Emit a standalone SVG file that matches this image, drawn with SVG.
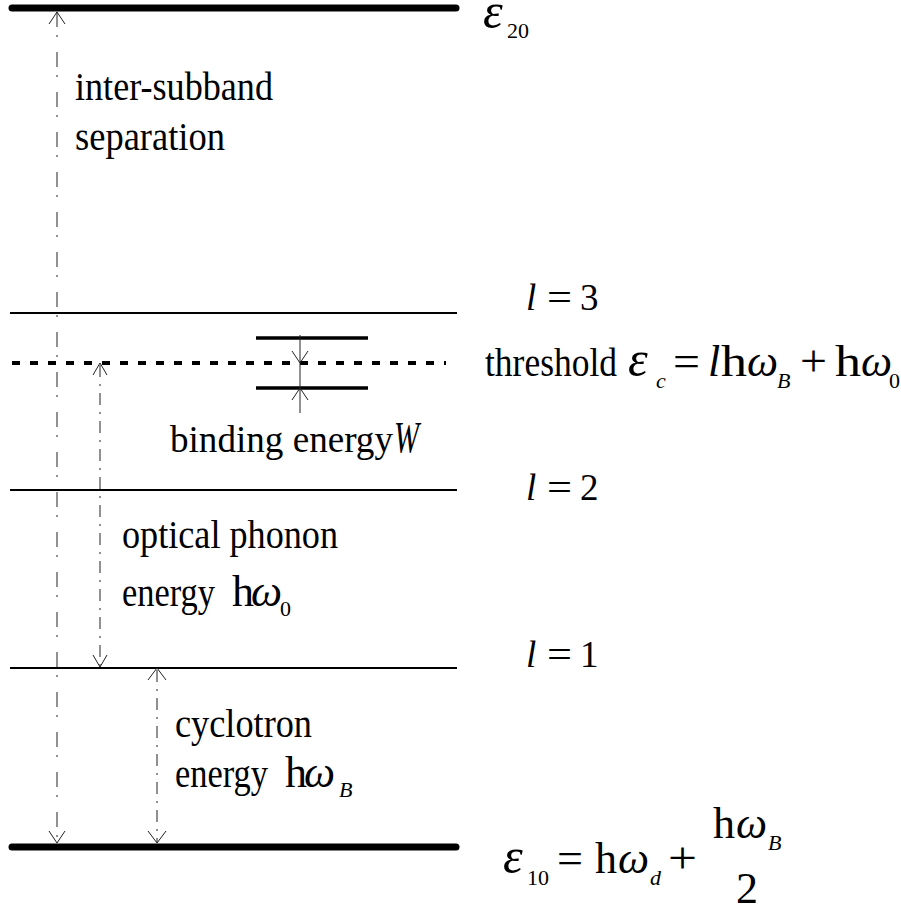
<svg xmlns="http://www.w3.org/2000/svg" width="901" height="909" viewBox="0 0 901 909">
<style>
text{font-family:"Liberation Serif","Times New Roman",serif;fill:#000}
.lbl{font-size:40px}
.m{font-size:44px}
.mi{font-size:44px;font-style:italic}
.eps{font-size:50px;font-style:italic}
.lq{font-size:37px}
.s{font-size:22px}
.si{font-size:22px;font-style:italic}
.lv{stroke:#000;stroke-width:2;fill:none}
.thick{stroke:#000;stroke-width:7;fill:none;stroke-linecap:round}
.short{stroke:#000;stroke-width:3.5;fill:none}
.dot{stroke:#000;stroke-width:4;fill:none;stroke-dasharray:8 10}
.arr{stroke:#222;stroke-width:1;fill:none}
.dd1{stroke-dasharray:15 8 2 15}
.dd2{stroke-dasharray:12 7 2 7}
.ah{stroke:#222;stroke-width:1;fill:none}
</style>
<g id="levels">
<line id="e20" class="thick" x1="12" y1="8" x2="456" y2="8"/>
<line id="l3" class="lv" x1="10" y1="313" x2="457" y2="313"/>
<line id="threshold" class="dot" x1="12" y1="363" x2="446" y2="363"/>
<line id="bindTop" class="short" x1="256" y1="338" x2="368" y2="338"/>
<line id="bindBot" class="short" x1="256" y1="388" x2="368" y2="388"/>
<line id="l2" class="lv" x1="10" y1="490" x2="457" y2="490"/>
<line id="l1" class="lv" x1="10" y1="668" x2="457" y2="668"/>
<line id="e10" class="thick" x1="12" y1="847" x2="456" y2="847"/>
</g>
<g id="connectors">
<line class="arr dd1" x1="57" y1="12" x2="57" y2="843"/>
<polyline class="ah" points="49,24 57,12 65,24"/>
<polyline class="ah" points="49,831 57,843 65,831"/>
<line class="arr" x1="300" y1="335" x2="300" y2="413" stroke="#555"/>
<polyline class="ah" points="292,351 300,363 308,351"/>
<polyline class="ah" points="292,400 300,388 308,400"/>
<line class="arr dd2" x1="100" y1="365" x2="100" y2="666"/>
<polyline class="ah" points="93,375 100,363 107,375"/>
<polyline class="ah" points="93,655 100,667 107,655"/>
<line class="arr dd2" x1="157" y1="670" x2="157" y2="842"/>
<polyline class="ah" points="148,680 157,668 166,680"/>
<polyline class="ah" points="148,831 157,843 166,831"/>
</g>
<g id="label-e20">
<text class="eps" x="483" y="28">ε</text>
<text class="s" x="507" y="38">20</text>
</g>
<g id="label-intersubband">
<text class="lbl" x="75" y="100" textLength="198" lengthAdjust="spacingAndGlyphs">inter-subband</text>
<text class="lbl" x="75" y="150" textLength="150" lengthAdjust="spacingAndGlyphs">separation</text>
</g>
<g id="label-l3">
<text class="lq" x="526" y="310" font-style="italic">l</text>
<text class="lq" x="547" y="310" textLength="25" lengthAdjust="spacingAndGlyphs">=</text>
<text class="lq" x="580" y="310">3</text>
</g>
<g id="label-threshold">
<text class="lbl" x="485" y="376" textLength="132" lengthAdjust="spacingAndGlyphs">threshold</text>
<text class="eps" x="628" y="376">ε</text>
<text class="si" x="656" y="388">c</text>
<text class="m" x="673" y="376" textLength="27" lengthAdjust="spacingAndGlyphs">=</text>
<text class="mi" x="708" y="376">l</text>
<text class="m" x="721" y="376" textLength="26" lengthAdjust="spacingAndGlyphs">h</text>
<text class="mi" x="747" y="376">ω</text>
<text class="si" x="777" y="388">B</text>
<text class="m" x="800" y="376" textLength="27" lengthAdjust="spacingAndGlyphs">+</text>
<text class="m" x="835" y="376" textLength="26" lengthAdjust="spacingAndGlyphs">h</text>
<text class="mi" x="861" y="376">ω</text>
<text class="s" x="889" y="388">0</text>
</g>
<g id="label-binding">
<text class="lbl" x="170" y="452" style="font-size:38px" textLength="223" lengthAdjust="spacingAndGlyphs">binding energy</text>
<text class="mi" x="394" y="452" textLength="25" lengthAdjust="spacingAndGlyphs">W</text>
</g>
<g id="label-l2">
<text class="lq" x="526" y="500" font-style="italic">l</text>
<text class="lq" x="547" y="500" textLength="25" lengthAdjust="spacingAndGlyphs">=</text>
<text class="lq" x="580" y="500">2</text>
</g>
<g id="label-optical">
<text class="lbl" x="122" y="548" textLength="216" lengthAdjust="spacingAndGlyphs">optical phonon</text>
<text class="lbl" x="122" y="606" textLength="93" lengthAdjust="spacingAndGlyphs">energy</text>
<text class="m" x="232" y="606">h</text>
<text class="mi" x="251" y="606">ω</text>
<text class="s" x="280" y="616">0</text>
</g>
<g id="label-l1">
<text class="lq" x="526" y="667" font-style="italic">l</text>
<text class="lq" x="547" y="667" textLength="25" lengthAdjust="spacingAndGlyphs">=</text>
<text class="lq" x="580" y="667">1</text>
</g>
<g id="label-cyclotron">
<text class="lbl" x="175" y="737" textLength="137" lengthAdjust="spacingAndGlyphs">cyclotron</text>
<text class="lbl" x="175" y="787" textLength="93" lengthAdjust="spacingAndGlyphs">energy</text>
<text class="m" x="285" y="787">h</text>
<text class="mi" x="304" y="787">ω</text>
<text class="si" x="339" y="797">B</text>
</g>
<g id="label-e10">
<text class="eps" x="503" y="873">ε</text>
<text class="s" x="527" y="885">10</text>
<text class="m" x="557" y="873" textLength="26" lengthAdjust="spacingAndGlyphs">=</text>
<text class="m" x="595" y="873">h</text>
<text class="mi" x="618" y="873">ω</text>
<text class="si" x="650" y="885">d</text>
<text class="m" x="668" y="873" textLength="29" lengthAdjust="spacingAndGlyphs">+</text>
<text class="m" x="713" y="838">h</text>
<text class="mi" x="736" y="838">ω</text>
<text class="si" x="768" y="850">B</text>
<text class="m" x="736" y="903">2</text>
</g>
</svg>
